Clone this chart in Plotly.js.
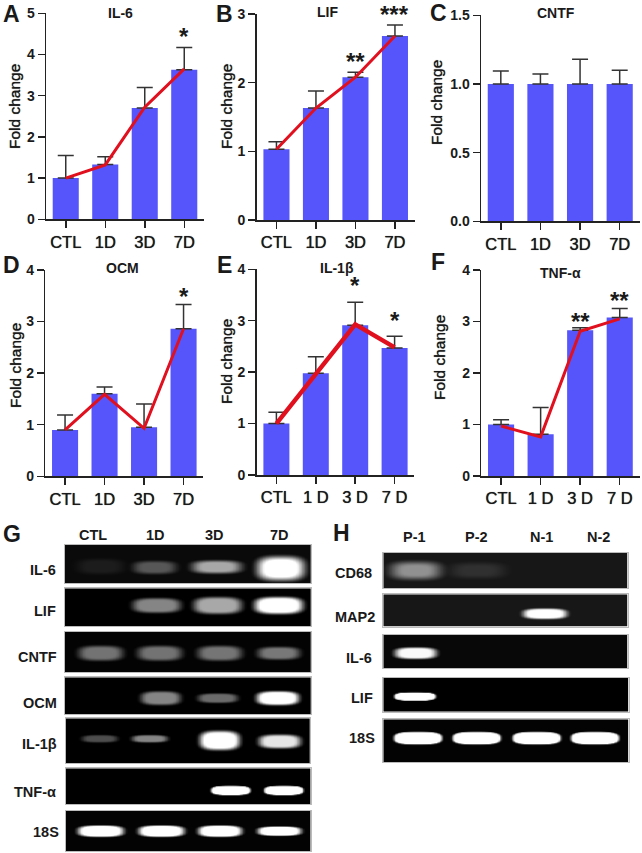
<!DOCTYPE html>
<html><head><meta charset="utf-8">
<script src="https://cdn.plot.ly/plotly-3.0.1.min.js"></script>
<style>html,body{margin:0;padding:0;background:#fff}</style></head>
<body><div id="chart" style="width:642px;height:853px"></div>
<script>
// ---------- bar panel data ----------
const catsD = ['CTL','1D','3D','7D'];
const catsSp = ['CTL','1 D','3 D','7 D'];

const il6Bar = [1.0,1.33,2.7,3.63];
const il6Err = [0.55,0.19,0.5,0.54];
const il6Line = [1.0,1.32,2.72,3.65];

const lifBar = [1.03,1.63,2.08,2.68];
const lifErr = [0.11,0.25,0.07,0.16];
const lifLine = [1.03,1.63,2.08,2.68];

const cntfBar = [1.0,1.0,1.0,1.0];
const cntfErr = [0.095,0.073,0.18,0.10];

const ocmBar = [0.9,1.6,0.95,2.86];
const ocmErr = [0.29,0.13,0.45,0.47];
const ocmLine = [0.9,1.59,0.93,2.86];

const il1bBar = [1.0,1.98,2.91,2.47];
const il1bErr = [0.22,0.32,0.45,0.23];
const il1bLine = [1.0,1.98,2.93,2.48];

const tnfBar = [1.0,0.81,2.83,3.08];
const tnfErr = [0.09,0.52,0.05,0.17];
const tnfLine = [0.97,0.76,2.81,3.05];

// ---------- gel band intensities (lane order) ----------
const gIL6 = [0.07,0.30,0.62,1.05];
const gLIF = [0,0.52,0.66,1.1];
const gCNTF = [0.44,0.44,0.45,0.46];
const gOCM = [0,0.52,0.42,1.15];
const gIL1b = [0.3,0.52,1.1,0.9];
const gTNF = [0,0,1.6,1.6];
const g18S = [1.1,1.1,1.1,1.1];
const hCD68 = [0.48,0.1,0,0];
const hMAP2 = [0,0,0.95,0];
const hIL6 = [0.95,0,0,0];
const hLIF = [1.7,0,0,0];
const h18S = [1.8,1.8,1.8,1.8];

// ---------- layout tables ----------
const W=642,H=853;
const BLUE='#5555fb',RED='#e0101f',INK='#1a1a1a',FONT='"Liberation Sans",Arial,sans-serif',THICK='0 0 0.7px #1a1a1a';
const panels=[
 {l:'A',t:'IL-6',cats:catsD,bar:il6Bar,err:il6Err,line:il6Line,lw:3,box:[46,204,13.3,219.3],r:[0,5],dt:1,fmt:'d',lx:12,ly:14,tx:120,ty:12.5,fx:14,fy:107},
 {l:'B',t:'LIF',cats:catsD,bar:lifBar,err:lifErr,line:lifLine,lw:3,box:[256.7,414.7,14,220],r:[0,3],dt:1,fmt:'d',lx:224,ly:14,tx:327,ty:12,fx:226,fy:107},
 {l:'C',t:'CNTF',cats:catsD,bar:cntfBar,err:cntfErr,line:null,box:[481,639.5,15.3,221.3],r:[0,1.5],dt:0.5,fmt:'.1f',lx:438,ly:13,tx:556,ty:13,fx:437,fy:103},
 {l:'D',t:'OCM',cats:catsD,bar:ocmBar,err:ocmErr,line:ocmLine,lw:3,box:[45.3,203.3,270,476.3],r:[0,4],dt:1,fmt:'d',lx:12,ly:265,tx:122,ty:268,fx:15,fy:366},
 {l:'E',t:'IL-1β',cats:catsSp,bar:il1bBar,err:il1bErr,line:il1bLine,lw:4.4,box:[256.7,414.3,269.3,475],r:[0,4],dt:1,fmt:'d',lx:224,ly:265,tx:337,ty:268,fx:226,fy:362},
 {l:'F',t:'TNF-α',cats:catsSp,bar:tnfBar,err:tnfErr,line:tnfLine,lw:3,box:[481.3,639.5,270,476],r:[0,4],dt:1,fmt:'d',lx:438,ly:262,tx:560,ty:273,fx:439,fy:358}
];
const stars=[[0,3,'*',4.51],[1,2,'**',2.354],[1,3,'***',3.04],[3,3,'*',3.55],[4,2,'*',3.74],[4,3,'*',3.07],[5,2,'**',3.06],[5,3,'**',3.47]];

const gels=[
 {n:'IL-6',v:gIL6,box:[64.7,311,545,583.3],cx:[100,154,216,280],cy:[566,567,566.5,568],hw:[22,20,23,22],hh:[7,6,6,11],soft:.4,bg:.04,lx:58,ly:570},
 {n:'LIF',v:gLIF,box:[64.7,311,588.3,626.3],cx:[100,156,217,278],cy:[605,605,605,605],hw:[22,23,23,23],hh:[7,7,8,8],soft:.3,bg:0,lx:58,ly:610.7},
 {n:'CNTF',v:gCNTF,box:[64.7,311,631.7,672.3],cx:[100,159,219,278],cy:[652.7,652.7,652.7,652.7],hw:[21,21,21,20],hh:[7,7,7,6],soft:.35,bg:.01,lx:59,ly:656.7},
 {n:'OCM',v:gOCM,box:[64.7,311,677.3,714],cx:[100,160,217,277],cy:[697.7,697.7,697.7,697.7],hw:[19,19,19,20],hh:[6,6.5,4.5,6.5],soft:.3,bg:0,lx:59,ly:703},
 {n:'IL-1β',v:gIL1b,box:[65.7,310,718.3,763.3],cx:[99,149,219,279],cy:[738.3,738.3,740,741],hw:[17,17,19,20],hh:[3.5,3.5,9,6.5],soft:.3,bg:0,lx:59,ly:744},
 {n:'TNF-α',v:gTNF,box:[65.7,310.5,768.3,804.3],cx:[100,160,230,283],cy:[790,790,790,790],hw:[19,19,19,19],hh:[4.5,4.5,4.5,4.5],soft:.12,bg:0,lx:58,ly:792},
 {n:'18S',v:g18S,box:[65.7,310.5,811,851],cx:[100,160.7,219.3,278.7],cy:[830.7,830.7,830.7,830.7],hw:[22,22,21,21],hh:[5.5,5.5,5.5,4.5],soft:.25,bg:.01,lx:61,ly:831.7},
 {n:'CD68',v:hCD68,box:[383.3,627.7,552.7,588.3],cx:[415,476.7,540,598],cy:[570,570,570,570],hw:[23,25,22,22],hh:[8,7,7,7],soft:.5,bg:.09,lx:374,ly:573},
 {n:'MAP2',v:hMAP2,box:[383.3,627.7,594.3,626.7],cx:[415,476,544.3,598],cy:[613,613,613.3,613],hw:[21,21,21,21],hh:[5,5,5,5],soft:.28,bg:.09,lx:376.7,ly:616.7},
 {n:'IL-6',v:hIL6,box:[383.3,627.7,635,668.3],cx:[415,476,540,598],cy:[652.7,652.7,652.7,652.7],hw:[20,20,20,20],hh:[5.5,5.5,5.5,5.5],soft:.3,bg:.03,lx:374,ly:657.7},
 {n:'LIF',v:hLIF,box:[383.3,628.5,677.7,711.7],cx:[414.3,476,540,598],cy:[696,696,696,696],hw:[20,20,20,20],hh:[4,4,4,4],soft:.12,bg:0,lx:375,ly:697.7},
 {n:'18S',v:h18S,box:[383.3,628.5,719.3,762.3],cx:[417.3,476,536,594.3],cy:[737.7,737.7,737.7,737.7],hw:[23,23,23,23],hh:[6,6,6,6],soft:.14,bg:.01,lx:377,ly:737.7}
];
const laneG=[['CTL',93],['1D',155],['3D',214],['7D',279]];
const laneH=[['P-1',414],['P-2',476],['N-1',541],['N-2',598]];

// ---------- build ----------
const traces=[],ann=[];
const layout={width:W,height:H,autosize:false,margin:{l:0,r:0,t:0,b:0,pad:0},paper_bgcolor:'#fff',plot_bgcolor:'#fff',showlegend:false,bargap:0.34,annotations:ann};
const px=v=>v/W, py=v=>1-v/H;
function note(x,y,text,size,opts,fontx){ann.push(Object.assign({xref:'paper',yref:'paper',x:px(x),y:py(y),text,showarrow:false,xanchor:'center',yanchor:'middle',font:Object.assign({family:FONT,size,color:INK,weight:700},fontx||{})},opts||{}));}

let ax=0;
panels.forEach((p,i)=>{
  ax++; const xa='x'+(ax>1?ax:''),ya='y'+(ax>1?ax:'');
  traces.push({type:'bar',x:p.cats,y:p.bar,xaxis:xa,yaxis:ya,marker:{color:BLUE},width:0.66,name:p.t,
    error_y:{type:'data',symmetric:false,array:p.err,arrayminus:[0,0,0,0],color:'#333',thickness:1.5,width:8}});
  if(p.line) traces.push({type:'scatter',mode:'lines',x:p.cats,y:p.line,xaxis:xa,yaxis:ya,line:{color:RED,width:p.lw},name:p.t+' trend'});
  const b=p.box;
  layout['xaxis'+(ax>1?ax:'')]={domain:[px(b[0]),px(b[1])],anchor:ya,type:'category',categoryorder:'array',categoryarray:p.cats,range:[-0.5,3.5],showgrid:false,zeroline:false,showline:true,linecolor:'#222',linewidth:1.5,ticks:'outside',ticklen:7,tickwidth:1.5,tickcolor:'#222',tickfont:{family:FONT,size:16.5,color:INK,shadow:THICK}};
  layout['yaxis'+(ax>1?ax:'')]={domain:[py(b[3]),py(b[2])],anchor:xa,range:p.r,dtick:p.dt,tick0:0,tickformat:p.fmt,showgrid:false,zeroline:false,showline:true,linecolor:'#222',linewidth:1.5,ticks:'outside',ticklen:7,tickwidth:1.5,tickcolor:'#222',tickfont:{family:FONT,size:14,color:INK,weight:700}};
  note(p.lx,p.ly,p.l,23);
  note(p.tx,p.ty,p.t,14);
  note(p.fx,p.fy,'Fold change',15.5,{textangle:-90},{weight:400,shadow:THICK});
});
stars.forEach(s=>{
  const n=s[0]+1,p=panels[s[0]],top=p.r[1];
  const over=Math.max(0,s[3]-top), shift=over*(p.box[3]-p.box[2])/(top-p.r[0]);
  ann.push({xref:'x'+(n>1?n:''),yref:'y'+(n>1?n:''),x:p.cats[s[1]],y:Math.min(s[3],top),text:s[2],showarrow:false,yanchor:'middle',xanchor:'center',yshift:-3+shift,font:{family:FONT,size:24,color:INK,weight:700}});
});

function sstep(a,b,t){const u=Math.min(1,Math.max(0,(t-a)/(b-a)));return u*u*(3-2*u);}
gels.forEach(g=>{
  ax++; const xa='x'+ax,ya='y'+ax,b=g.box;
  const xs=[],ys=[],z=[];
  for(let x=b[0];x<=b[1];x+=1.5)xs.push(x);
  for(let y=b[2];y<=b[3];y+=1)ys.push(y);
  ys.forEach(y=>{
    z.push(xs.map(x=>{
      let val=g.bg;
      g.v.forEach((I,k)=>{
        if(!I)return;
        const dx=Math.abs(x-g.cx[k])/g.hw[k],dy=Math.abs(y-g.cy[k])/g.hh[k];
        const d=Math.pow(Math.pow(dx,3)+Math.pow(dy,3),1/3);
        val+=I*(1-sstep(1-g.soft,1+g.soft,d));
      });
      return Math.min(1,val);
    }));
  });
  traces.push({type:'heatmap',x:xs,y:ys,z,xaxis:xa,yaxis:ya,zmin:0,zmax:1,zsmooth:'best',showscale:false,colorscale:[[0,'#000'],[1,'#fff']],hoverinfo:'skip',name:g.n});
  layout['xaxis'+ax]={domain:[px(b[0]),px(b[1])],anchor:ya,range:[b[0],b[1]],visible:true,showgrid:false,zeroline:false,showticklabels:false,ticks:'',showline:true,mirror:true,linecolor:'#bbb',linewidth:1};
  layout['yaxis'+ax]={domain:[py(b[3]),py(b[2])],anchor:xa,range:[b[3],b[2]],visible:true,showgrid:false,zeroline:false,showticklabels:false,ticks:'',showline:true,mirror:true,linecolor:'#bbb',linewidth:1};
  note(g.lx,g.ly,g.n,14.5,{xanchor:'right'});
});
laneG.forEach(l=>note(l[1],535,l[0],14.5));
laneH.forEach(l=>note(l[1],536.5,l[0],14.5));
note(12,534,'G',23); note(341,533,'H',23);

Plotly.newPlot('chart',traces,layout,{displayModeBar:false,staticPlot:true});
</script></body></html>
